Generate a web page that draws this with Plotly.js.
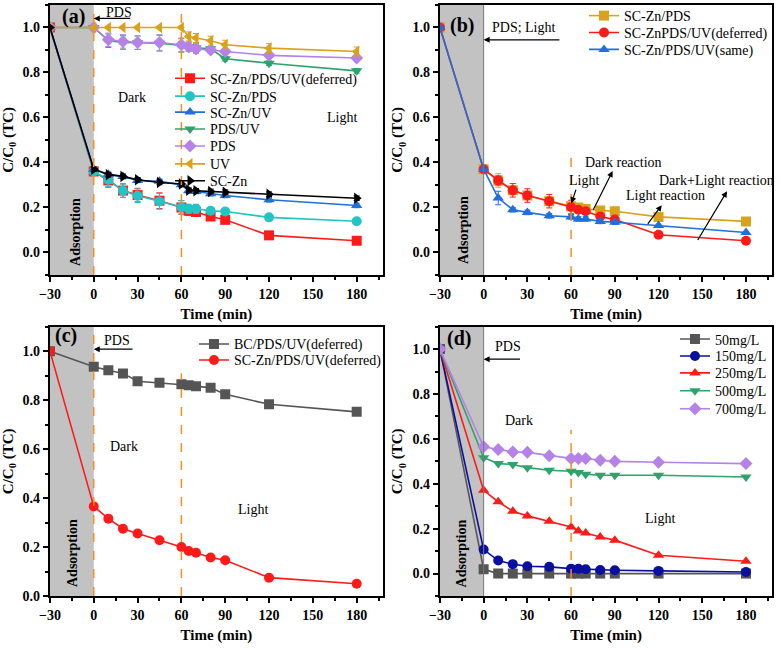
<!DOCTYPE html>
<html>
<head>
<meta charset="utf-8">
<script src="https://cdn.plot.ly/plotly-3.0.1.min.js"></script>
<style>
  html, body { margin: 0; padding: 0; background: #fff; }
  #chart { width: 780px; height: 649px; }
</style>
</head>
<body>
<div id="chart"></div>
<script>
// sampling times (min)
var times = [-30, 0, 10, 20, 30, 45, 60, 65, 70, 80, 90, 120, 180];

// (a)
var aDeferred = [1.0, 0.36, 0.32, 0.275, 0.255, 0.23, 0.20, 0.185, 0.18, 0.16, 0.145, 0.076, 0.052];
var aZnPds = [1.0, 0.36, 0.323, 0.274, 0.252, 0.227, 0.201, 0.194, 0.194, 0.185, 0.182, 0.156, 0.139];
var aZnUv = [1.0, 0.37, 0.348, 0.338, 0.32, 0.316, 0.301, 0.274, 0.271, 0.261, 0.253, 0.234, 0.209];
var aPdsUv = [1.0, 1.0, 0.941, 0.933, 0.932, 0.93, 0.92, 0.915, 0.91, 0.905, 0.861, 0.841, 0.807];
var aPds = [1.0, 1.0, 0.945, 0.938, 0.933, 0.933, 0.923, 0.913, 0.904, 0.90, 0.893, 0.876, 0.864];
var aUv = [1.0, 1.0, 1.0, 1.0, 1.0, 1.0, 1.0, 0.96, 0.953, 0.941, 0.923, 0.908, 0.893];
var aZn = [1.0, 0.37, 0.345, 0.338, 0.323, 0.311, 0.304, 0.277, 0.274, 0.271, 0.268, 0.259, 0.241];
var aErrBig = [0, 0.01, 0.03, 0.03, 0.03, 0.035, 0.03, 0.02, 0.02, 0.01, 0.01, 0.01, 0.01];
var aErrUv = [0, 0, 0, 0, 0, 0, 0, 0.02, 0.02, 0.02, 0.02, 0.02, 0.02];
var aErrSmall = [0, 0.01, 0.01, 0.01, 0.01, 0.01, 0.01, 0.01, 0.01, 0.01, 0.01, 0.01, 0.01];

// (b)
var bZnPds = [1.0, 0.37, 0.32, 0.276, 0.253, 0.228, 0.205, 0.2, 0.193, 0.187, 0.183, 0.158, 0.138];
var bDeferred = [1.0, 0.37, 0.32, 0.276, 0.253, 0.228, 0.202, 0.19, 0.183, 0.16, 0.146, 0.079, 0.052];
var bSame = [1.0, 0.37, 0.242, 0.19, 0.178, 0.163, 0.158, 0.149, 0.149, 0.138, 0.134, 0.12, 0.089];
var bErrRed = [0, 0, 0.02, 0.03, 0.03, 0.03, 0.03, 0.01, 0.01, 0.01, 0.01, 0, 0];
var bErrBlue = [0, 0, 0.03, 0.01, 0.01, 0.01, 0.01, 0.01, 0.01, 0.01, 0.01, 0, 0];

// (c)
var cBc = [1.0, 0.936, 0.922, 0.909, 0.877, 0.871, 0.865, 0.861, 0.857, 0.85, 0.824, 0.783, 0.752];
var cZn = [1.0, 0.366, 0.316, 0.275, 0.255, 0.228, 0.20, 0.184, 0.177, 0.157, 0.146, 0.075, 0.05];

// (d)
var d50 = [1.0, 0.019, 0.0, 0.0, 0.0, 0.0, 0.0, 0.0, 0.0, 0.0, 0.0, 0.0, 0.0];
var d150 = [1.0, 0.107, 0.058, 0.042, 0.033, 0.03, 0.022, 0.021, 0.019, 0.016, 0.015, 0.012, 0.007];
var d250 = [1.0, 0.371, 0.32, 0.278, 0.257, 0.233, 0.208, 0.19, 0.181, 0.163, 0.149, 0.082, 0.055];
var d500 = [1.0, 0.516, 0.49, 0.486, 0.472, 0.46, 0.456, 0.45, 0.443, 0.438, 0.438, 0.438, 0.43];
var d700 = [1.0, 0.565, 0.553, 0.542, 0.54, 0.525, 0.513, 0.513, 0.513, 0.505, 0.50, 0.496, 0.49];

var serif = "Liberation Serif, Times New Roman, serif";
var red = "#ff1a1a", cyan = "#22c4c4", blue = "#1f6fdc", green = "#2ea36b",
    purple = "#b583e8", gold = "#d9a21b", grey = "#555555", navy = "#0a0f9e";

// one legend per entry so the rows can be packed as tight as the original
var legFont = { family: serif, size: 14, color: "#000" };
var legends = {};
var legCount = 0;
function series(name, y, color, symbol, ax, lx, ly, err) {
  legCount++;
  var id = legCount === 1 ? "legend" : "legend" + legCount;
  legends[id] = { x: lx / 780, y: 1 - ly / 649, xanchor: "left", yanchor: "middle",
    bgcolor: "rgba(0,0,0,0)", font: legFont, itemwidth: 30 };
  var t = {
    x: times, y: y, name: name, type: "scatter", mode: "lines+markers",
    xaxis: "x" + ax, yaxis: "y" + ax, legend: id, showlegend: true,
    line: { color: color, width: 1.6 },
    marker: { color: color, symbol: symbol, size: 10 }
  };
  if (err) {
    t.error_y = { type: "data", array: err, color: color, thickness: 1, width: 3 };
  }
  return t;
}

var data = [
  series("SC-Zn/PDS/UV(deferred)", aDeferred, red, "square", "", 170, 76, aErrBig),
  series("SC-Zn/PDS", aZnPds, cyan, "circle", "", 170, 94, aErrBig),
  series("SC-Zn/UV", aZnUv, blue, "triangle-up", "", 170, 110, aErrSmall),
  series("PDS/UV", aPdsUv, green, "triangle-down", "", 170, 127, aErrBig),
  series("PDS", aPds, purple, "diamond", "", 170, 144, aErrBig),
  series("UV", aUv, gold, "triangle-left", "", 170, 162, aErrUv),
  series("SC-Zn", aZn, "#000000", "triangle-right", "", 170, 179, aErrSmall),

  series("SC-Zn/PDS", bZnPds, gold, "square", "2", 584, 13, bErrBlue),
  series("SC-ZnPDS/UV(deferred)", bDeferred, red, "circle", "2", 584, 30, bErrRed),
  series("SC-Zn/PDS/UV(same)", bSame, blue, "triangle-up", "2", 584, 47, bErrBlue),

  series("BC/PDS/UV(deferred)", cBc, grey, "square", "3", 194, 343),
  series("SC-Zn/PDS/UV(deferred)", cZn, red, "circle", "3", 194, 359),

  series("50mg/L", d50, grey, "square", "4", 675, 338),
  series("150mg/L", d150, navy, "circle", "4", 675, 355),
  series("250mg/L", d250, red, "triangle-up", "4", 675, 372),
  series("500mg/L", d500, green, "triangle-down", "4", 675, 390),
  series("700mg/L", d700, purple, "diamond", "4", 675, 408)
];

var tickFont = { family: serif, size: 14, color: "#000", weight: "bold" };
var titleFont = { family: serif, size: 15, color: "#000", weight: "bold" };

function xAxis(domain, anchor) {
  return {
    domain: domain, anchor: anchor, range: [-30, 198],
    tickmode: "linear", tick0: -30, dtick: 30,
    ticks: "outside", ticklen: 5, tickwidth: 1.5, tickcolor: "#000",
    minor: { dtick: 15, ticks: "outside", ticklen: 3, tickcolor: "#000" },
    showline: true, linecolor: "#000", linewidth: 2, mirror: true,
    showgrid: false, zeroline: false, tickfont: tickFont,
    title: { text: "Time (min)", font: titleFont, standoff: 8 }
  };
}
function yAxis(domain, anchor, range) {
  return {
    domain: domain, anchor: anchor, range: range,
    tickmode: "linear", tick0: 0, dtick: 0.2, tickformat: ".1f",
    ticks: "outside", ticklen: 5, tickwidth: 1.5, tickcolor: "#000",
    minor: { dtick: 0.1, ticks: "outside", ticklen: 3, tickcolor: "#000" },
    showline: true, linecolor: "#000", linewidth: 2, mirror: true,
    showgrid: false, zeroline: false, tickfont: tickFont,
    title: { text: "C/C<sub>0</sub> (TC)", font: titleFont, standoff: 6 }
  };
}

var xL = [0.064, 0.491], xR = [0.564, 0.990];
var yT = [0.579, 0.997], yB = [0.082, 0.499];

var shapes = [];
["", "2", "3", "4"].forEach(function (k) {
  shapes.push({ type: "rect", xref: "x" + k, yref: "y" + k + " domain",
    x0: -30, x1: 0, y0: 0, y1: 1, fillcolor: "#c2c2c2", line: { width: 0 }, layer: "below" });
});
function vline(k, x, y0, y1, dashed) {
  return { type: "line", xref: "x" + k, yref: "y" + k, x0: x, x1: x, y0: y0, y1: y1,
    line: dashed ? { color: "#ff8c1a", width: 1.5, dash: "dash" } : { color: "#777", width: 1 } };
}
shapes.push(vline("", 0, -0.1, 1.1, true), vline("", 60, -0.1, 1.1, true));
shapes.push(vline("2", 0, -0.1, 1.1, false), vline("2", 60, -0.1, 0.42, true));
shapes.push(vline("3", 0, 0, 1.1, true), vline("3", 60, 0, 0.91, true));
shapes.push(vline("4", 0, -0.1, 1.1, false), vline("4", 60, -0.1, 0.64, true));

var annFont = { family: serif, size: 14, color: "#000" };
function txt(k, x, y, text, extra) {
  var a = { xref: "x" + k, yref: "y" + k, x: x, y: y, text: text, showarrow: false, font: annFont };
  for (var p in extra) a[p] = extra[p];
  return a;
}
function arrow(k, x, y, ax, ay) {
  return { xref: "x" + k, yref: "y" + k, axref: "x" + k, ayref: "y" + k,
    x: x, y: y, ax: ax, ay: ay, text: "", showarrow: true,
    arrowhead: 2, arrowsize: 1, arrowwidth: 1.2, arrowcolor: "#000" };
}
var labFont = { family: serif, size: 20, color: "#000", weight: "bold" };
var adsFont = { family: serif, size: 14, color: "#000", weight: "bold" };

var annotations = [
  txt("", -14, 1.05, "(a)", { font: labFont }),
  txt("", 17, 1.065, "PDS"), arrow("", 0, 1.04, 26, 1.04),
  txt("", 26, 0.69, "Dark"), txt("", 170, 0.6, "Light"),
  txt("", -13, 0.09, "Adsorption", { textangle: -90, font: adsFont }),

  txt("2", -15, 1.01, "(b)", { font: labFont }),
  txt("2", 28, 1.0, "PDS; Light"), arrow("2", 0, 0.945, 53, 0.945),
  txt("2", 96, 0.40, "Dark reaction"), arrow("2", 88.5, 0.362, 74.7, 0.183),
  txt("2", 69, 0.32, "Light"), arrow("2", 60.2, 0.219, 63.7, 0.286),
  txt("2", 125, 0.255, "Light reaction"), arrow("2", 122.2, 0.21, 111.9, 0.12),
  txt("2", 160, 0.32, "Dark+Light reaction"), arrow("2", 167, 0.272, 146.3, 0.049),
  txt("2", -13.5, 0.10, "Adsorption", { textangle: -90, font: adsFont }),

  txt("3", -19, 1.065, "(c)", { font: labFont }),
  txt("3", 16, 1.045, "PDS"), arrow("3", 0, 1.008, 27.6, 1.008),
  txt("3", 21, 0.61, "Dark"), txt("3", 109, 0.355, "Light"),
  txt("3", -15, 0.175, "Adsorption", { textangle: -90, font: adsFont }),

  txt("4", -17, 1.045, "(d)", { font: labFont }),
  txt("4", 17, 1.01, "PDS"), arrow("4", 0, 0.955, 26, 0.955),
  txt("4", 24, 0.684, "Dark"), txt("4", 121, 0.244, "Light"),
  txt("4", -15.5, 0.09, "Adsorption", { textangle: -90, font: adsFont })
];

var layout = {
  width: 780, height: 649,
  margin: { l: 0, r: 0, t: 0, b: 0 },
  showlegend: true,
  paper_bgcolor: "#fff", plot_bgcolor: "#fff",
  xaxis: xAxis(xL, "y"), yaxis: yAxis(yT, "x", [-0.1, 1.1]),
  xaxis2: xAxis(xR, "y2"), yaxis2: yAxis(yT, "x2", [-0.1, 1.1]),
  xaxis3: xAxis(xL, "y3"), yaxis3: yAxis(yB, "x3", [0, 1.1]),
  xaxis4: xAxis(xR, "y4"), yaxis4: yAxis(yB, "x4", [-0.1, 1.1]),
  shapes: shapes,
  annotations: annotations
};
for (var id in legends) layout[id] = legends[id];

Plotly.newPlot("chart", data, layout, { displayModeBar: false });
</script>
</body>
</html>
